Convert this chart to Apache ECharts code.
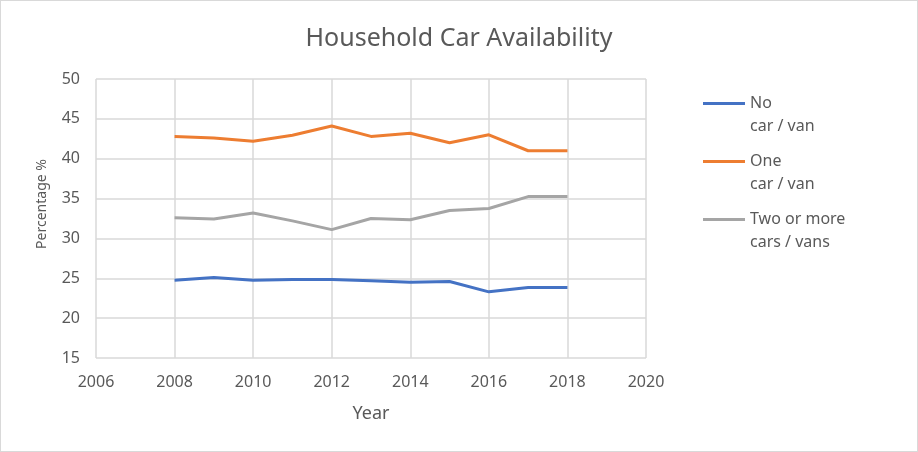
<!DOCTYPE html>
<html>
<head>
<meta charset="utf-8">
<script src="https://cdn.jsdelivr.net/npm/echarts@6/dist/echarts.min.js"></script>
<style>
html,body{margin:0;padding:0;background:#fff;}
#c{width:916px;height:450px;border:1px solid #d9d9d9;}
</style>
</head>
<body>
<div id="c"></div>
<script>
const years = [2008, 2009, 2010, 2011, 2012, 2013, 2014, 2015, 2016, 2017, 2018];
const noCar = [24.75, 25.1, 24.75, 24.85, 24.85, 24.7, 24.5, 24.6, 23.3, 23.85, 23.85];
const oneCar = [42.8, 42.6, 42.2, 42.95, 44.1, 42.8, 43.2, 42.0, 43.0, 41.0, 41.0];
const twoCars = [32.6, 32.45, 33.2, 32.2, 31.1, 32.5, 32.35, 33.5, 33.75, 35.25, 35.25];
const seriesNames = ['No\ncar / van', 'One\ncar / van', 'Two or more\ncars / vans'];
const colors = ['#4472C4', '#ED7D31', '#A5A5A5'];
const yTicks = {min: 15, max: 50, interval: 5};
const xTicks = {min: 2006, max: 2020, interval: 2};

const FONT = 'Noto Sans';
const TXT = '#595959';
const pairs = arr => years.map((y, i) => [y, arr[i]]);
const allSeries = [noCar, oneCar, twoCars].map((arr, i) => ({
  name: seriesNames[i],
  type: 'line',
  data: pairs(arr),
  showSymbol: false,
  symbol: 'none',
  lineStyle: {width: 3, color: colors[i]},
  itemStyle: {color: colors[i]}
}));

const chart = echarts.init(document.getElementById('c'), null, {renderer: 'canvas'});
chart.setOption({
  animation: false,
  title: {
    text: 'Household Car Availability',
    left: 'center', top: 20,
    textStyle: {fontFamily: FONT, fontSize: 25, fontWeight: 'normal', color: TXT}
  },
  grid: {left: 95, right: 271, top: 78, bottom: 93},
  legend: {
    orient: 'vertical',
    left: 697, top: 63,
    itemWidth: 42, itemHeight: 10, itemGap: -11,
    icon: 'path://M0,4L42,4L42,7L0,7Z',
    formatter: name => '\n' + name,
    textStyle: {fontFamily: FONT, fontSize: 16, color: TXT, lineHeight: 23},
    data: seriesNames
  },
  xAxis: {
    type: 'value', min: xTicks.min, max: xTicks.max, interval: xTicks.interval,
    name: 'Year', nameLocation: 'middle', nameGap: 47,
    nameTextStyle: {fontFamily: FONT, fontSize: 18, color: TXT},
    axisLine: {show: false}, axisTick: {show: false},
    axisLabel: {fontFamily: FONT, fontSize: 16, color: TXT, margin: 16, formatter: v => String(v)},
    splitLine: {show: true, lineStyle: {color: '#d9d9d9', width: 1.5}}
  },
  yAxis: {
    type: 'value', min: yTicks.min, max: yTicks.max, interval: yTicks.interval,
    name: 'Percentage %', nameLocation: 'middle', nameGap: 47,
    nameTextStyle: {fontFamily: FONT, fontSize: 14, color: TXT, padding: [0, 0, 0, 29]},
    axisLine: {show: false}, axisTick: {show: false},
    axisLabel: {fontFamily: FONT, fontSize: 16, color: TXT, margin: 16},
    splitLine: {show: true, lineStyle: {color: '#d9d9d9', width: 1.5}}
  },
  series: allSeries
});
</script>
</body>
</html>
